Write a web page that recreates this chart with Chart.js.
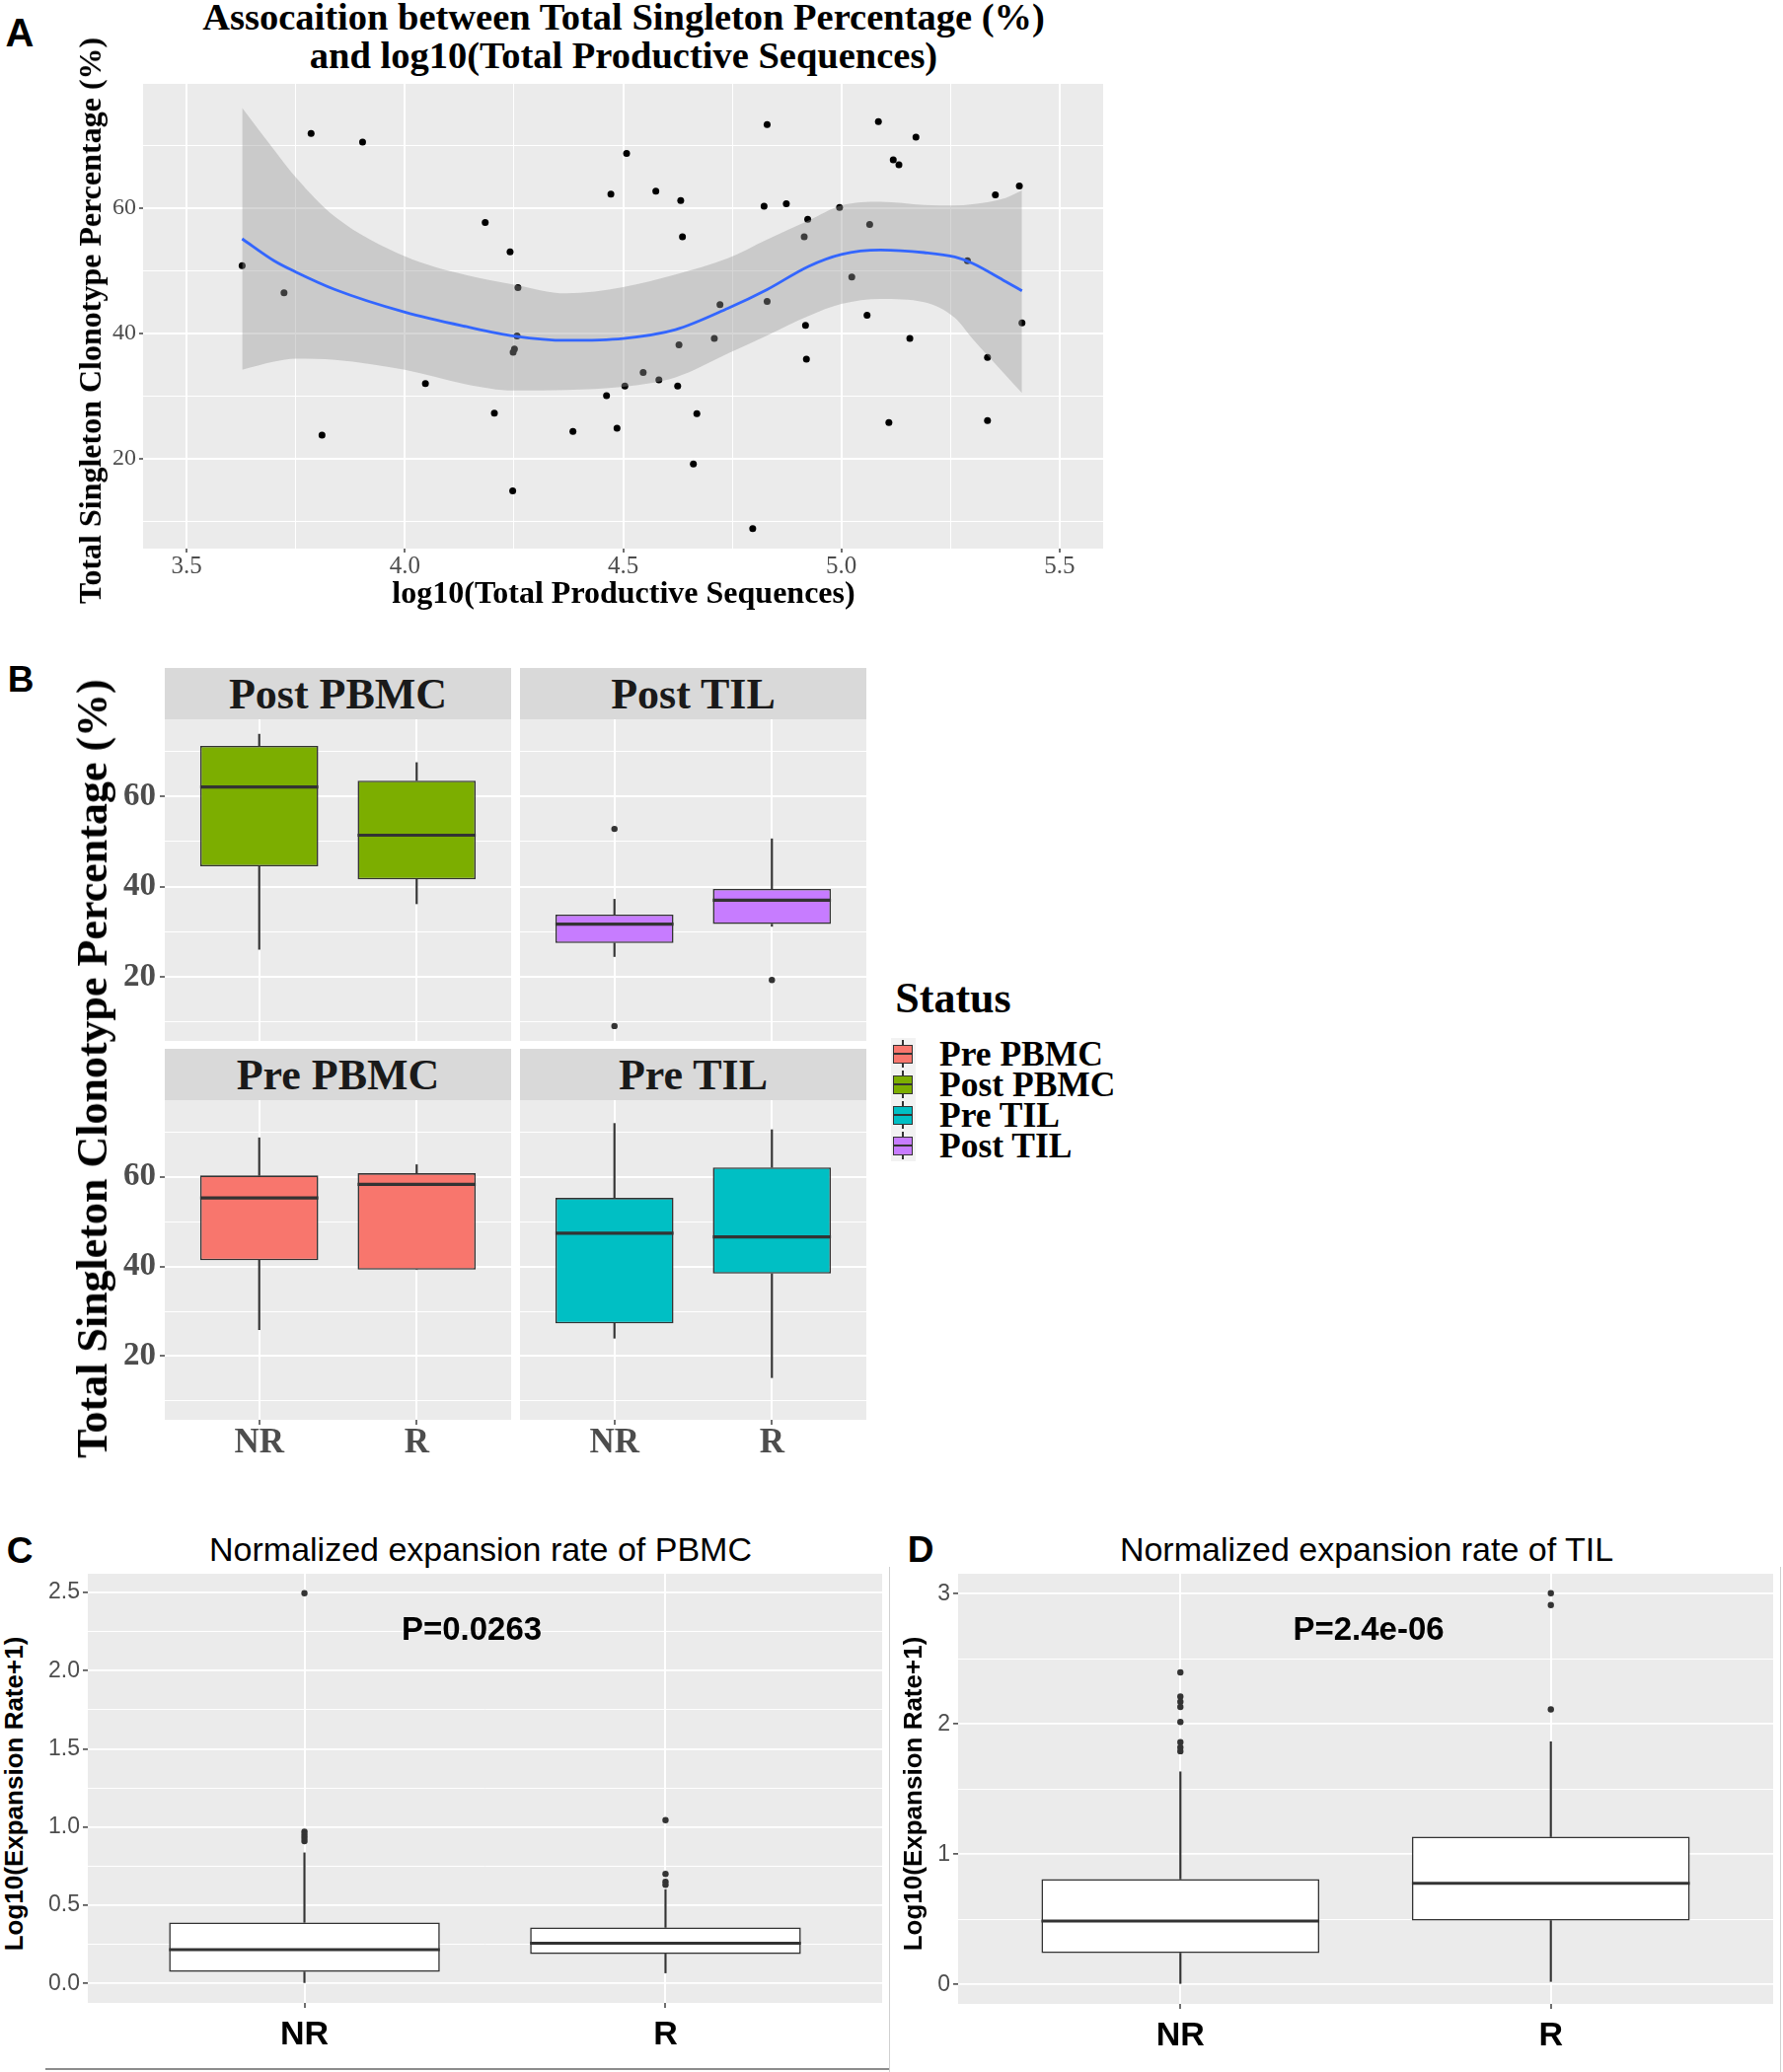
<!DOCTYPE html>
<html>
<head>
<meta charset="utf-8">
<script src="https://cdn.jsdelivr.net/npm/chart.js@4.4.0/dist/chart.umd.min.js"></script>
<style>
  body { margin: 0; background: #fff; width: 1807px; height: 2100px; position: relative; overflow: hidden; }
  canvas { position: absolute; }
  .lbl { position: absolute; white-space: nowrap; line-height: 1; transform: translate(-50%, -50%); }
  .rot { transform: translate(-50%, -50%) rotate(-90deg); }
  .serif { font-family: "Liberation Serif", "Times New Roman", serif; font-weight: bold; }
  .sans { font-family: "Liberation Sans", Arial, sans-serif; }
  .strip { position: absolute; background: #d9d9d9; display: flex; align-items: center; justify-content: center;
           font-family: "Liberation Serif", serif; font-weight: bold; font-size: 44px; color: #1a1a1a; }
  .line { position: absolute; }
</style>
</head>
<body>

<canvas id="chartA"></canvas>
<canvas id="chartPostPbmc"></canvas>
<canvas id="chartPostTil"></canvas>
<canvas id="chartPrePbmc"></canvas>
<canvas id="chartPreTil"></canvas>
<canvas id="chartC"></canvas>
<canvas id="chartD"></canvas>

<!-- Panel A -->
<div class="lbl sans" style="left:20px;top:33px;font-size:40px;font-weight:bold;">A</div>
<div class="lbl serif" style="left:632px;top:17px;font-size:38.5px;">Assocaition between Total Singleton Percentage (%)</div>
<div class="lbl serif" style="left:632px;top:56px;font-size:38.5px;">and log10(Total Productive Sequences)</div>
<div class="lbl serif rot" style="left:91px;top:325px;font-size:32px;">Total Singleton Clonotype Percentage (%)</div>
<div class="lbl serif" style="left:632px;top:600px;font-size:32px;">log10(Total Productive Sequences)</div>

<!-- Panel B -->
<div class="lbl sans" style="left:21px;top:688px;font-size:37px;font-weight:bold;">B</div>
<div class="lbl serif rot" style="left:94px;top:1083px;font-size:44px;">Total Singleton Clonotype Percentage (%)</div>
<div class="strip" style="left:167px;top:677px;width:351px;height:52px;">Post PBMC</div>
<div class="strip" style="left:527px;top:677px;width:351px;height:52px;">Post TIL</div>
<div class="strip" style="left:167px;top:1063px;width:351px;height:52px;">Pre PBMC</div>
<div class="strip" style="left:527px;top:1063px;width:351px;height:52px;">Pre TIL</div>
<div id="legendB"></div>

<!-- Panel C -->
<div class="lbl sans" style="left:20px;top:1571px;font-size:37px;font-weight:bold;">C</div>
<div class="lbl sans" style="left:487px;top:1570px;font-size:34px;">Normalized expansion rate of PBMC</div>
<div class="lbl sans" style="left:478px;top:1650px;font-size:33px;font-weight:bold;">P=0.0263</div>
<div class="lbl sans rot" style="left:14px;top:1818px;font-size:26px;font-weight:bold;">Log10(Expansion Rate+1)</div>
<div class="line" style="left:46px;top:2096px;width:855px;height:2px;background:#8c8c8c;"></div>

<!-- Panel D -->
<div class="lbl sans" style="left:933px;top:1570px;font-size:37px;font-weight:bold;">D</div>
<div class="lbl sans" style="left:1385px;top:1570px;font-size:34px;">Normalized expansion rate of TIL</div>
<div class="lbl sans" style="left:1387px;top:1650px;font-size:33px;font-weight:bold;">P=2.4e-06</div>
<div class="lbl sans rot" style="left:925px;top:1818px;font-size:26px;font-weight:bold;">Log10(Expansion Rate+1)</div>
<div class="line" style="left:901px;top:1588px;width:1px;height:512px;background:#d0d0d0;"></div>
<div class="line" style="left:1804px;top:1588px;width:1px;height:512px;background:#d0d0d0;"></div>

<script>
// ---------- Panel A: singleton % vs log10(total productive sequences) ----------
const seqLog10 = [3.627, 3.723, 3.785, 3.903, 3.810, 4.047, 4.184, 4.241, 4.259, 4.257,
  4.248, 4.251, 4.205, 4.247, 4.385, 4.472, 4.508, 4.462, 4.486, 4.504,
  4.575, 4.632, 4.636, 4.830, 4.823, 4.874, 4.923, 4.915, 4.996, 5.065,
  5.085, 5.119, 5.132, 5.171, 5.353, 5.408, 5.289, 5.024, 4.830, 4.722,
  5.059, 4.918, 5.414, 4.709, 4.628, 5.157, 4.920, 5.335, 4.546, 4.582,
  4.625, 4.669, 5.109, 5.335, 4.661, 4.797];
const singletonPct = [50.8, 46.5, 71.9, 70.5, 23.8, 32.0, 57.7, 53.0, 47.3, 39.6,
  37.0, 37.5, 27.3, 14.9, 24.4, 62.2, 68.7, 30.1, 24.9, 31.6,
  62.7, 61.2, 55.4, 73.3, 60.3, 60.7, 58.2, 55.4, 60.1, 57.4,
  73.8, 67.7, 66.9, 71.3, 62.1, 63.5, 51.6, 49.0, 45.1, 44.6,
  42.9, 41.3, 41.7, 39.2, 38.2, 39.2, 35.9, 36.2, 33.8, 32.6,
  31.6, 27.2, 25.8, 26.1, 19.2, 8.9];

// loess fit and its confidence band
const smoothX = [3.627, 3.70, 3.75, 3.84, 4.0, 4.14, 4.25, 4.37, 4.5, 4.62,
  4.74, 4.83, 4.925, 5.0, 5.09, 5.19, 5.26, 5.30, 5.376, 5.414];
const smoothFit = [55.1, 51.6, 49.8, 47.0, 43.4, 41.1, 39.6, 38.9, 39.2, 40.6,
  44.0, 47.0, 50.7, 52.6, 53.3, 52.9, 52.2, 51.2, 48.3, 46.8];
const smoothUpper = [76.0, 69.3, 64.9, 58.6, 52.3, 49.3, 47.8, 46.4, 47.4, 49.4,
  52.0, 55.0, 58.0, 60.4, 61.0, 60.5, 60.4, 60.6, 61.6, 62.8];
const smoothLower = [34.2, 35.5, 36.0, 35.8, 34.2, 31.9, 30.9, 31.0, 31.5, 33.0,
  36.8, 39.7, 42.8, 44.7, 45.5, 45.0, 42.5, 39.2, 33.4, 30.5];

const xTicksA = [3.5, 3.75, 4.0, 4.25, 4.5, 4.75, 5.0, 5.25, 5.5];
const xMajorA = [3.5, 4.0, 4.5, 5.0, 5.5];
const yTicksPct = [10, 20, 30, 40, 50, 60, 70];
const yMajorPct = [20, 40, 60];

// ---------- Panel B: boxplot stats [low whisker, Q1, median, Q3, high whisker] ----------
const responseGroups = ['NR', 'R'];
const postPbmcStats = [[26.1, 44.5, 62.1, 71.2, 73.8], [36.2, 41.6, 51.4, 63.5, 67.5]];
const postPbmcOutliers = [[], []];
const postTilStats = [[24.5, 27.5, 31.7, 33.8, 37.2], [31.2, 31.7, 37.0, 39.5, 50.6]];
const postTilOutliers = [[52.8, 9.1], [19.3]];
const prePbmcStats = [[25.9, 41.4, 55.3, 60.3, 68.7], [39.3, 39.3, 58.3, 60.8, 62.7]];
const prePbmcOutliers = [[], []];
const preTilStats = [[24.0, 27.3, 47.4, 55.3, 71.9], [15.2, 38.4, 46.6, 62.1, 70.5]];
const preTilOutliers = [[], []];
const statusLabels = ['Pre PBMC', 'Post PBMC', 'Pre TIL', 'Post TIL'];
const statusColors = ['#F8766D', '#7CAE00', '#00BFC4', '#C77CFF'];

// ---------- Panels C / D: log10(expansion rate + 1) ----------
const pbmcStats = [[0.005, 0.073, 0.215, 0.39, 0.835], [0.067, 0.188, 0.257, 0.358, 0.60]];
const pbmcOutliers = [[2.495, 0.97, 0.95, 0.93, 0.91], [1.044, 0.70, 0.65, 0.63]];
const tilStats = [[0.0, 0.24, 0.487, 0.809, 1.632], [0.022, 0.49, 0.776, 1.134, 1.863]];
const tilOutliers = [[2.395, 2.21, 2.17, 2.13, 2.015, 1.86, 1.82, 1.79], [3.003, 2.912, 2.111]];
const yTicksC = [0, 0.25, 0.5, 0.75, 1.0, 1.25, 1.5, 1.75, 2.0, 2.25, 2.5];
const yMajorC = [0, 0.5, 1.0, 1.5, 2.0, 2.5];
const yTicksD = [0, 0.5, 1, 1.5, 2, 2.5, 3];
const yMajorD = [0, 1, 2, 3];
const groupTicks = [1, 2];

// ------------------------------------------------------------------
const SERIF = '"Liberation Serif", "Times New Roman", serif';
const SANS = '"Liberation Sans", Arial, sans-serif';

// grey ggplot panel behind the grid
const panelBg = {
  id: 'panelBg',
  beforeDraw(chart) {
    const { ctx, chartArea: a } = chart;
    ctx.save();
    ctx.fillStyle = '#ebebeb';
    ctx.fillRect(a.left, a.top, a.right - a.left, a.bottom - a.top);
    ctx.restore();
  }
};

// median bar across each box, placed with the box elements and the y scale
const boxMedian = {
  id: 'boxMedian',
  afterDatasetsDraw(chart, args, opts) {
    if (!opts.stats) return;
    const meta = chart.getDatasetMeta(opts.boxIndex);
    const ys = chart.scales.y;
    const ctx = chart.ctx;
    ctx.save();
    ctx.strokeStyle = '#333333';
    ctx.lineWidth = opts.width;
    meta.data.forEach((bar, i) => {
      const py = ys.getPixelForValue(opts.stats[i][2]);
      ctx.beginPath();
      ctx.moveTo(bar.x - bar.width / 2, py);
      ctx.lineTo(bar.x + bar.width / 2, py);
      ctx.stroke();
    });
    ctx.restore();
  }
};

function place(id, left, top, width, height) {
  const c = document.getElementById(id);
  c.width = width; c.height = height;
  c.style.left = left + 'px'; c.style.top = top + 'px';
  c.style.width = width + 'px'; c.style.height = height + 'px';
  return c;
}

function zeroPad(s) { s.paddingLeft = 0; s.paddingRight = 0; s.paddingTop = 0; s.paddingBottom = 0; }

function axis(o) {
  const isMajor = v => o.major.some(m => Math.abs(m - v) < 1e-9);
  return {
    type: 'linear', min: o.min, max: o.max, offset: false,
    border: { display: false },
    afterBuildTicks: s => { s.ticks = o.ticks.map(v => ({ value: v })); },
    afterFit: s => { if (o.horizontal) s.height = o.size; else s.width = o.size; zeroPad(s); },
    grid: {
      offset: false,
      color: '#ffffff',
      lineWidth: c => (c.tick && isMajor(c.tick.value)) ? o.majorWidth : 1,
      drawTicks: o.showLabels,
      tickLength: o.tickLen || 5,
      tickWidth: 1.4,
      tickColor: c => (c.tick && isMajor(c.tick.value)) ? '#333333' : 'rgba(0,0,0,0)'
    },
    ticks: {
      display: o.showLabels, autoSkip: false, maxRotation: 0, minRotation: 0,
      padding: o.pad || 0, color: o.color || '#4d4d4d', font: o.font,
      callback: v => isMajor(v) ? o.fmt(v) : ''
    }
  };
}

function baseOptions(xAxis, yAxis, extraPlugins) {
  return {
    responsive: false, animation: false, devicePixelRatio: 1,
    layout: { padding: 0, autoPadding: false },
    scales: { x: xAxis, y: yAxis },
    plugins: Object.assign({ legend: { display: false }, tooltip: { enabled: false } }, extraPlugins || {})
  };
}

// ---------- Chart A ----------
place('chartA', 100, 85, 1018, 511);
new Chart(document.getElementById('chartA'), {
  type: 'scatter',
  data: {
    datasets: [
      { type: 'line', data: smoothX.map((x, i) => ({ x: x, y: smoothFit[i] })), borderColor: '#3366FF',
        borderWidth: 2.8, pointRadius: 0, cubicInterpolationMode: 'monotone', fill: false, order: 1 },
      { type: 'line', data: smoothX.map((x, i) => ({ x: x, y: smoothUpper[i] })), borderColor: 'rgba(0,0,0,0)',
        borderWidth: 0.01, pointRadius: 0, cubicInterpolationMode: 'monotone', fill: '+1',
        backgroundColor: 'rgba(153,153,153,0.4)', order: 3 },
      { type: 'line', data: smoothX.map((x, i) => ({ x: x, y: smoothLower[i] })), borderColor: 'rgba(0,0,0,0)',
        borderWidth: 0.01, pointRadius: 0, cubicInterpolationMode: 'monotone', fill: false, order: 2 },
      { type: 'scatter', data: seqLog10.map((x, i) => ({ x: x, y: singletonPct[i] })), pointRadius: 3.5,
        backgroundColor: '#000000', borderWidth: 0, order: 4 }
    ]
  },
  options: baseOptions(
    axis({ horizontal: true, min: 3.4, max: 5.6, ticks: xTicksA, major: xMajorA, majorWidth: 2, size: 40,
           showLabels: true, tickLen: 4, pad: 2, fmt: v => v.toFixed(1),
           font: { family: SERIF, size: 25, lineHeight: 1 } }),
    axis({ min: 5.7, max: 79.8, ticks: yTicksPct, major: yMajorPct, majorWidth: 2, size: 45,
           showLabels: true, tickLen: 4, pad: 3, fmt: v => String(v),
           font: { family: SERIF, size: 24, lineHeight: 1 } })
  ),
  plugins: [panelBg]
});

// ---------- box plot builder ----------
function boxDatasets(stats, outliers, fill, opt) {
  return [
    { type: 'bar', data: stats.map((s, i) => ({ x: i + 1, y: [s[0], s[1]] })), backgroundColor: '#333333',
      barThickness: opt.whisker, grouped: false, order: 4 },
    { type: 'bar', data: stats.map((s, i) => ({ x: i + 1, y: [s[3], s[4]] })), backgroundColor: '#333333',
      barThickness: opt.whisker, grouped: false, order: 3 },
    { type: 'bar', data: stats.map((s, i) => ({ x: i + 1, y: [s[1], s[3]] })), backgroundColor: fill,
      borderColor: '#333333', borderWidth: opt.border, borderSkipped: false, barPercentage: 0.75,
      categoryPercentage: 1, grouped: false, order: 2 },
    { type: 'scatter', data: outliers.flatMap((arr, i) => arr.map(v => ({ x: i + 1, y: v }))),
      pointRadius: opt.dot, backgroundColor: '#333333', borderWidth: 0, order: 1 }
  ];
}

function boxChart(id, stats, outliers, fill, xAxis, yAxis, opt) {
  return new Chart(document.getElementById(id), {
    type: 'bar',
    data: { datasets: boxDatasets(stats, outliers, fill, opt) },
    options: baseOptions(xAxis, yAxis, { boxMedian: { stats: stats, boxIndex: 2, width: opt.median } }),
    plugins: [panelBg, boxMedian]
  });
}

// ---------- Panel B facets ----------
const facetOpt = { whisker: 1.5, border: 1.6, median: 3.2, dot: 3.2 };
function facetX(showLabels) {
  return axis({ horizontal: true, min: 0.4, max: 2.6, ticks: groupTicks, major: groupTicks, majorWidth: 2,
    size: showLabels ? 40 : 0, showLabels: showLabels, tickLen: 5, pad: 1,
    fmt: v => responseGroups[Math.round(v) - 1],
    font: { family: SERIF, size: 35, weight: 'bold', lineHeight: 1 } });
}
function facetY(showLabels) {
  return axis({ min: 5.8, max: 77.1, ticks: yTicksPct, major: yMajorPct, majorWidth: 2,
    size: showLabels ? 50 : 0, showLabels: showLabels, tickLen: 5, pad: 4, fmt: v => String(v),
    font: { family: SERIF, size: 33, weight: 'bold', lineHeight: 1 } });
}

place('chartPostPbmc', 117, 729, 401, 326);
boxChart('chartPostPbmc', postPbmcStats, postPbmcOutliers, statusColors[1], facetX(false), facetY(true), facetOpt);
place('chartPostTil', 527, 729, 351, 326);
boxChart('chartPostTil', postTilStats, postTilOutliers, statusColors[3], facetX(false), facetY(false), facetOpt);
place('chartPrePbmc', 117, 1115, 401, 364);
boxChart('chartPrePbmc', prePbmcStats, prePbmcOutliers, statusColors[0], facetX(true), facetY(true), facetOpt);
place('chartPreTil', 527, 1115, 351, 364);
boxChart('chartPreTil', preTilStats, preTilOutliers, statusColors[2], facetX(true), facetY(false), facetOpt);

// legend for panel B
(function () {
  const box = document.getElementById('legendB');
  let html = '<div class="lbl serif" style="left:966px;top:1012px;font-size:44px;">Status</div>';
  html += '<div class="line" style="left:903px;top:1052px;width:25px;height:125px;background:#f2f2f2;"></div>';
  const rowY = [1068, 1099, 1130, 1161];
  statusLabels.forEach((name, i) => {
    const y = rowY[i];
    html += '<div class="line" style="left:914px;top:' + (y - 14) + 'px;width:1.5px;height:28px;background:#333;"></div>';
    html += '<div class="line" style="left:905px;top:' + (y - 9) + 'px;width:18px;height:17px;background:' +
      statusColors[i] + ';border:1px solid #333;"></div>';
    html += '<div class="line" style="left:906px;top:' + (y - 1) + 'px;width:18px;height:2px;background:#333;"></div>';
    html += '<div class="serif" style="position:absolute;left:952px;top:' + (y - 18) +
      'px;font-size:35.5px;line-height:36px;white-space:nowrap;">' + name + '</div>';
  });
  box.innerHTML = html;
})();

// ---------- Panels C and D ----------
const expOpt = { whisker: 1.5, border: 1.6, median: 3, dot: 3.2 };
function expX() {
  return axis({ horizontal: true, min: 0.4, max: 2.6, ticks: groupTicks, major: groupTicks, majorWidth: 2,
    size: 55, showLabels: true, tickLen: 5, pad: 11, color: '#000000',
    fmt: v => responseGroups[Math.round(v) - 1],
    font: { family: SANS, size: 34, weight: 'bold', lineHeight: 1 } });
}

place('chartC', 39, 1595, 855, 490);
boxChart('chartC', pbmcStats, pbmcOutliers, '#ffffff', expX(),
  axis({ min: -0.125, max: 2.62, ticks: yTicksC, major: yMajorC, majorWidth: 1.8, size: 50, showLabels: true,
         tickLen: 5, pad: 3, fmt: v => v.toFixed(1), font: { family: SANS, size: 23, lineHeight: 1 } }),
  expOpt);

place('chartD', 921, 1595, 876, 491);
boxChart('chartD', tilStats, tilOutliers, '#ffffff', expX(),
  axis({ min: -0.15, max: 3.153, ticks: yTicksD, major: yMajorD, majorWidth: 1.8, size: 50, showLabels: true,
         tickLen: 5, pad: 3, fmt: v => String(v), font: { family: SANS, size: 23, lineHeight: 1 } }),
  expOpt);
</script>
</body>
</html>
